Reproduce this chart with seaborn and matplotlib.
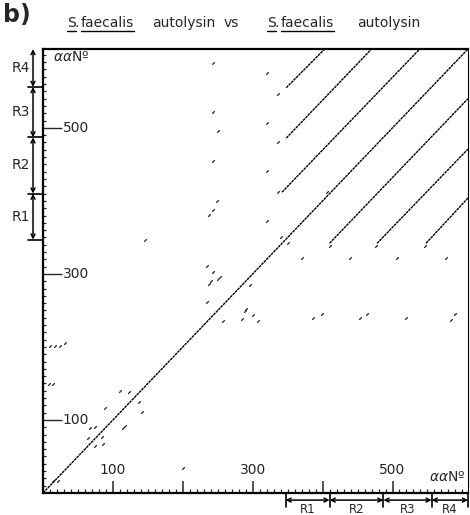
import numpy as np
import pandas as pd
import matplotlib
matplotlib.use("Agg")
import matplotlib.pyplot as plt
from matplotlib import transforms
from matplotlib.lines import Line2D
import seaborn as sns

# --- data (residue numbers) ---
seq_len = 608

# diagonal runs of the dot matrix: main diagonal + repeat offsets
diag_x0 = [0, 348, 348, 342, 410, 478, 548]
diag_y0 = [0, 555, 486, 412, 342, 342, 342]
diag_x1 = [608, 403, 470, 539, 608, 608, 608]
diag_y1 = [608, 608, 608, 608, 540, 471, 404]

# isolated matches
noise_x = [110, 123, 89, 137, 141, 67, 74, 64, 84, 86, 74, 117, 114, 14, 21,
           10, 17, 24, 31, 9, 14,
           234, 243, 241, 237, 250, 253, 234, 296, 291, 289, 284, 300, 307, 257,
           146, 200,
           243, 243, 251, 243, 249, 243, 237,
           321, 320, 320, 320,
           336, 336, 336, 341, 350,
           370, 439, 507, 577,
           386, 399, 453, 464, 520, 584, 590,
           410, 476, 546, 407]
noise_y = [140, 138, 116, 125, 111, 89, 90, 75, 77, 67, 64, 92, 89, 16, 16,
           201, 201, 201, 205, 149, 149,
           311, 303, 290, 286, 293, 296, 262, 285, 252, 249, 238, 244, 236, 236,
           347, 34,
           589, 522, 496, 455, 400, 388, 381,
           575, 507, 441, 373,
           547, 481, 412, 351, 342,
           322, 322, 322, 322,
           240, 245, 240, 245, 240, 237, 245,
           338, 338, 338, 412]

repeat_bounds = [347, 410, 487, 556, 608]
repeat_names = ["R1", "R2", "R3", "R4"]
x_major = [100, 200, 300, 400, 500]
labeled = [100, 300, 500]

seg_df = pd.DataFrame({
    "seg": np.repeat(np.arange(len(diag_x0)), 2),
    "x": np.ravel(np.column_stack([diag_x0, diag_x1])),
    "y": np.ravel(np.column_stack([diag_y0, diag_y1])),
})
dot_df = pd.DataFrame({"x": noise_x, "y": noise_y})

sns.set_style("white")
plt.rcParams['font.family'] = ['DejaVu Sans']

fig = plt.figure(figsize=(4.7, 5.15), dpi=100)
ax = fig.add_axes([43 / 470, 22 / 515, 425 / 470, 444 / 515])

sns.lineplot(data=seg_df, x="x", y="y", units="seg", estimator=None, sort=False,
             color="black", lw=1.0, linestyle=(0, (2.0, 0.5)), ax=ax, legend=False)
sns.scatterplot(data=dot_df, x="x", y="y", marker=(2, 2, -45), s=5,
                color="#333333", edgecolor="#333333", linewidth=0.7, ax=ax, legend=False)

ax.set_xlim(0, seq_len)
ax.set_ylim(0, seq_len)
ax.set_xlabel("")
ax.set_ylabel("")

for side, lw in [("left", 1.6), ("bottom", 1.6), ("top", 1.6), ("right", 0.8)]:
    ax.spines[side].set_visible(True)
    ax.spines[side].set_color("black")
    ax.spines[side].set_linewidth(lw)

ax.set_xticks(x_major)
ax.set_xticks([v for v in range(10, seq_len, 10) if v not in x_major], minor=True)
ax.set_yticks(labeled)
ax.set_yticks([v for v in range(10, seq_len, 10) if v not in labeled], minor=True)
ax.tick_params(axis="x", which="major", direction="in", length=8.5, width=1.1,
               bottom=True, labelbottom=False)
ax.tick_params(axis="x", which="minor", direction="in", length=3, width=0.9, bottom=True)
ax.tick_params(axis="y", which="major", direction="in", length=13.5, width=1.0,
               left=True, labelleft=False)
ax.tick_params(axis="y", which="minor", direction="in", length=2.5, width=0.9, left=True)

for v in labeled:
    ax.annotate(str(v), xy=(v, 0), xycoords=("data", "axes fraction"),
                xytext=(0, 11.5), textcoords="offset points",
                ha="center", va="bottom", fontsize=10)
    ax.annotate(str(v), xy=(0, v), xycoords=("axes fraction", "data"),
                xytext=(14, 0), textcoords="offset points",
                ha="left", va="center", fontsize=10)

ax.text(0.024, 0.997, r"$\alpha\alpha$Nº", transform=ax.transAxes,
        ha="left", va="top", fontsize=10)
ax.text(0.995, 0.02, r"$\alpha\alpha$Nº", transform=ax.transAxes,
        ha="right", va="bottom", fontsize=10)

# repeat brackets
ty = transforms.blended_transform_factory(ax.transAxes, ax.transData)
tx = transforms.blended_transform_factory(ax.transData, ax.transAxes)
arrow = dict(arrowstyle="<->", lw=1.1, color="black", shrinkA=0, shrinkB=0,
             mutation_scale=7)
for i, name in enumerate(repeat_names):
    a, b = repeat_bounds[i], repeat_bounds[i + 1]
    mid = (a + b) / 2
    ax.annotate("", xy=(-0.0235, b), xytext=(-0.0235, a), xycoords=ty,
                textcoords=ty, arrowprops=arrow, annotation_clip=False)
    ax.text(-0.052, mid, name, transform=ty, ha="center", va="center", fontsize=10)
    ax.annotate("", xy=(b, -0.016), xytext=(a, -0.016), xycoords=tx,
                textcoords=tx, arrowprops=arrow, annotation_clip=False)
    ax.text(mid, -0.0445, name, transform=tx, ha="center", va="baseline", fontsize=8.5)
for b in repeat_bounds[:-1]:
    ax.plot([-0.035, 0], [b, b], transform=ty, clip_on=False, color="black", lw=1.2)
for b in repeat_bounds:
    ax.plot([b, b], [0, -0.032], transform=tx, clip_on=False, color="black", lw=1.2)

# title
fig.text(3 / 470, 1 - 3 / 515, "b)", fontsize=17, fontweight="bold", ha="left", va="top")
pieces = [("S", 67, True), (".", 75, False), ("faecalis", 81, True),
          ("autolysin", 152, False), ("vs", 224, False), ("S", 267, True),
          (".", 275, False), ("faecalis", 281, True), ("autolysin", 357, False)]
texts = []
for word, px, ul in pieces:
    t = fig.text(px / 470, 1 - 27 / 515, word, fontsize=10, ha="left", va="baseline")
    texts.append((t, ul))
fig.canvas.draw()
r = fig.canvas.get_renderer()
for t, ul in texts:
    if ul:
        bb = t.get_window_extent(r)
        fig.add_artist(Line2D([bb.x0 / 470, bb.x1 / 470], [1 - 31 / 515, 1 - 31 / 515],
                              transform=fig.transFigure, color="black", lw=1.0))

fig.savefig("out.png", dpi=100)
